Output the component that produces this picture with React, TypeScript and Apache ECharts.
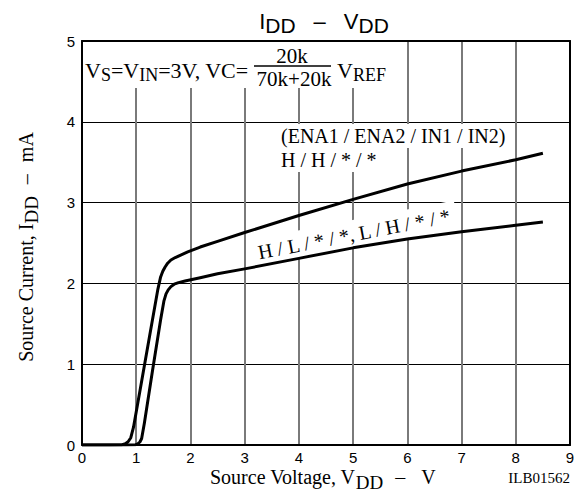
import React, { useEffect, useRef } from "react";
import * as echarts from "echarts";

// Axis ranges / ticks
const xMin = 0;
const xMax = 9;
const yMin = 0;
const yMax = 5;

// Curve "H / H / * / *"
const hhVoltage = [0, 0.5, 0.74, 0.8, 0.85, 0.9, 0.95, 1.1, 1.25, 1.4, 1.45, 1.49, 1.53, 1.58, 1.64, 1.72, 1.82, 1.95, 2.18, 2.5, 3, 4, 5, 6, 7, 8, 8.5];
const hhCurrent = [0, 0, 0.004, 0.015, 0.04, 0.09, 0.22, 0.79, 1.36, 1.93, 2.08, 2.15, 2.2, 2.25, 2.29, 2.32, 2.35, 2.39, 2.45, 2.52, 2.63, 2.84, 3.04, 3.23, 3.39, 3.53, 3.61];

// Curve "H / L / * / *, L / H / * / *"
const hlVoltage = [0, 0.8, 0.99, 1.03, 1.07, 1.1, 1.15, 1.3, 1.45, 1.51, 1.55, 1.59, 1.64, 1.7, 1.78, 1.9, 2.18, 2.5, 3, 4, 5, 6, 7, 8, 8.5];
const hlCurrent = [0, 0, 0.004, 0.015, 0.04, 0.08, 0.27, 0.92, 1.55, 1.78, 1.87, 1.92, 1.96, 1.99, 2.01, 2.03, 2.07, 2.12, 2.18, 2.31, 2.44, 2.55, 2.64, 2.72, 2.76];

const SERIF = "'Liberation Serif', 'DejaVu Serif', serif";
const SANS = "'Liberation Sans', Arial, sans-serif";

export default function App() {
  const ref = useRef<HTMLDivElement>(null);

  useEffect(() => {
    if (!ref.current) return;
    const chart = echarts.init(ref.current, null, { renderer: "svg" });

    const pairs = (xs: number[], ys: number[]) => xs.map((x, i) => [x, ys[i]]);

    const borderAxisX = (position: string) => ({
      type: "value",
      position,
      min: xMin,
      max: xMax,
      z: 3,
      axisLine: { show: true, onZero: false, lineStyle: { color: "#000", width: 2 } },
      axisTick: { show: false },
      axisLabel: { show: false },
      splitLine: { show: false },
    });
    const borderAxisY = (position: string) => ({
      type: "value",
      position,
      min: yMin,
      max: yMax,
      z: 3,
      axisLine: { show: true, onZero: false, lineStyle: { color: "#000", width: 2 } },
      axisTick: { show: false },
      axisLabel: { show: false },
      splitLine: { show: false },
    });

    const sub = (shift: number, size: number, family: string) => ({
      fontSize: size,
      fontFamily: family,
      color: "#000",
      verticalAlign: "middle",
      padding: [shift * 2, 0, 0, 0],
    });
    const main = (size: number, family: string) => ({
      fontSize: size,
      fontFamily: family,
      color: "#000",
      verticalAlign: "middle",
    });

    chart.setOption({
      animation: false,
      backgroundColor: "#fff",
      grid: { left: 82, right: 13, top: 41, bottom: 55, containLabel: false },
      xAxis: [
        {
          type: "value",
          min: xMin,
          max: xMax,
          interval: 1,
          z: 0,
          axisLine: { show: false },
          axisTick: { show: false },
          axisLabel: { color: "#000", fontSize: 15, fontFamily: SANS, margin: 5 },
          splitLine: { show: true, lineStyle: { color: "#7a7a7a", width: 2 } },
        },
        borderAxisX("bottom"),
        borderAxisX("top"),
      ],
      yAxis: [
        {
          type: "value",
          min: yMin,
          max: yMax,
          interval: 1,
          z: 0,
          axisLine: { show: false },
          axisTick: { show: false },
          axisLabel: { color: "#000", fontSize: 15, fontFamily: SANS, margin: 7 },
          splitLine: { show: true, lineStyle: { color: "#000", width: 1 } },
        },
        borderAxisY("left"),
        borderAxisY("right"),
      ],
      series: [
        {
          name: "H / H / * / *",
          type: "line",
          xAxisIndex: 0,
          yAxisIndex: 0,
          z: 2,
          data: pairs(hhVoltage, hhCurrent),
          showSymbol: false,
          symbol: "none",
          smooth: false,
          lineStyle: { color: "#000", width: 3, join: "round" },
        },
        {
          name: "H / L / * / *, L / H / * / *",
          type: "line",
          xAxisIndex: 0,
          yAxisIndex: 0,
          z: 2,
          data: pairs(hlVoltage, hlCurrent),
          showSymbol: false,
          symbol: "none",
          smooth: false,
          lineStyle: { color: "#000", width: 3, join: "round" },
        },
      ],
      graphic: [
        // Title
        {
          type: "text",
          z: 1,
          x: 324,
          y: 21,
          style: {
            text: "{m|I}{s|DD}{d|–}{m|V}{s|DD}",
            align: "center",
            verticalAlign: "middle",
            rich: {
              m: main(22, SANS),
              s: sub(4, 21, SANS),
              d: { ...main(22, SANS), padding: [0, 18, 0, 18] },
            },
          },
        },
        // White band behind top-left condition text
        {
          type: "rect",
          z: 1,
          shape: { x: 83, y: 42, width: 318, height: 46 },
          style: { fill: "#fff" },
        },
        {
          type: "text",
          z: 1,
          x: 85,
          y: 70,
          style: {
            text: "{m|V}{s|S}{m|=V}{s|IN}{m|=3V, VC=}",
            align: "left",
            verticalAlign: "middle",
            rich: { m: main(22, SERIF), s: sub(5, 18, SERIF) },
          },
        },
        {
          type: "text",
          z: 1,
          x: 292,
          y: 56,
          style: { text: "20k", align: "center", verticalAlign: "middle", fontSize: 21, fontFamily: SERIF, fill: "#000" },
        },
        {
          type: "line",
          z: 1,
          shape: { x1: 254, y1: 66, x2: 331, y2: 66 },
          style: { stroke: "#000", lineWidth: 1.5 },
        },
        {
          type: "text",
          z: 1,
          x: 294,
          y: 79,
          style: { text: "70k+20k", align: "center", verticalAlign: "middle", fontSize: 21, fontFamily: SERIF, fill: "#000" },
        },
        {
          type: "text",
          z: 1,
          x: 337,
          y: 70,
          style: {
            text: "{m|V}{s|REF}",
            align: "left",
            verticalAlign: "middle",
            rich: { m: main(22, SERIF), s: sub(5, 18, SERIF) },
          },
        },
        // Curve labels
        {
          type: "text",
          z: 1,
          x: 279,
          y: 136,
          style: {
            text: "(ENA1 / ENA2 / IN1 / IN2)",
            align: "left",
            verticalAlign: "middle",
            fontSize: 20,
            fontFamily: SERIF,
            fill: "#000",
            backgroundColor: "#fff",
            padding: [2, 2, 2, 2],
          },
        },
        {
          type: "text",
          z: 1,
          x: 279,
          y: 160,
          style: {
            text: "H / H / * / *",
            align: "left",
            verticalAlign: "middle",
            fontSize: 20,
            fontFamily: SERIF,
            fill: "#000",
            backgroundColor: "#fff",
            padding: [2, 2, 2, 2],
          },
        },
        {
          type: "text",
          z: 1,
          x: 354,
          y: 234,
          rotation: 0.19,
          style: {
            text: "H / L / * / *, L / H / * / *",
            align: "center",
            verticalAlign: "middle",
            fontSize: 20,
            fontFamily: SERIF,
            fill: "#000",
            backgroundColor: "#fff",
            padding: [4, 6, 4, 6],
          },
        },
        // Axis names
        {
          type: "text",
          z: 1,
          x: 210,
          y: 477,
          style: {
            text: "{m|Source Voltage, V}{s|DD}{d|–}{m|V}",
            align: "left",
            verticalAlign: "middle",
            rich: {
              m: main(20, SERIF),
              s: sub(5, 19, SERIF),
              d: { ...main(20, SERIF), padding: [0, 16, 0, 12] },
            },
          },
        },
        {
          type: "text",
          z: 1,
          x: 26,
          y: 247,
          rotation: Math.PI / 2,
          style: {
            text: "{m|Source Current, I}{s|DD}{d|–}{m|mA}",
            align: "center",
            verticalAlign: "middle",
            rich: {
              m: main(20, SERIF),
              s: sub(5, 19, SERIF),
              d: { ...main(20, SERIF), padding: [0, 12, 0, 12] },
            },
          },
        },
        {
          type: "text",
          z: 1,
          x: 570,
          y: 478,
          style: { text: "ILB01562", align: "right", verticalAlign: "middle", fontSize: 15, fontFamily: SERIF, fill: "#000" },
        },
      ],
    });

    return () => chart.dispose();
  }, []);

  return <div ref={ref} style={{ width: 583, height: 500, position: "absolute", left: 0, top: 0 }} />;
}
